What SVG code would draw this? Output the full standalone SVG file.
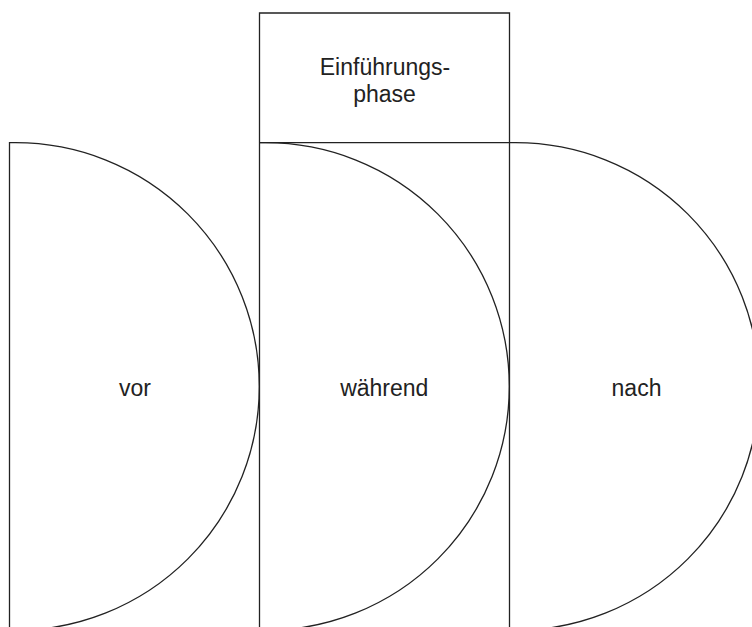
<svg xmlns="http://www.w3.org/2000/svg" width="752" height="627" viewBox="0 0 752 627">
  <style>
    .edge { fill: none; stroke: #222; stroke-width: 1.3; }
    .label { font-family: "Liberation Sans", Arial, sans-serif; font-size: 23px; fill: #222; text-anchor: middle; }
  </style>
  <rect width="752" height="627" fill="#fff"/>

  <!-- phase column: header box and its two side rails running off the bottom -->
  <g id="einfuehrungsphase">
    <path class="edge" d="M259.5,640 V13 H509.5 V640 M259.5,142.7 H509.5"/>
    <text class="label" x="385" y="74.5">Einführungs-</text>
    <text class="label" x="384.5" y="102">phase</text>
  </g>

  <!-- half-disc "before" -->
  <g id="vor">
    <path class="edge" d="M9.5,640 V142.7 H15.5 A243.8,243.8 0 0 1 259.3,386.5 A243.8,243.8 0 0 1 15.5,630.3"/>
    <text class="label" x="135" y="396">vor</text>
  </g>

  <!-- half-disc "during" -->
  <g id="waehrend">
    <path class="edge" d="M259.5,142.7 H265.5 A243.8,243.8 0 0 1 509.3,386.5 A243.8,243.8 0 0 1 265.5,630.3"/>
    <text class="label" x="384.3" y="396">während</text>
  </g>

  <!-- half-disc "after" -->
  <g id="nach">
    <path class="edge" d="M509.5,142.7 H515.5 A243.8,243.8 0 0 1 759.3,386.5 A243.8,243.8 0 0 1 515.5,630.3"/>
    <text class="label" x="636.5" y="396">nach</text>
  </g>

  <g id="connectors"/>
</svg>
